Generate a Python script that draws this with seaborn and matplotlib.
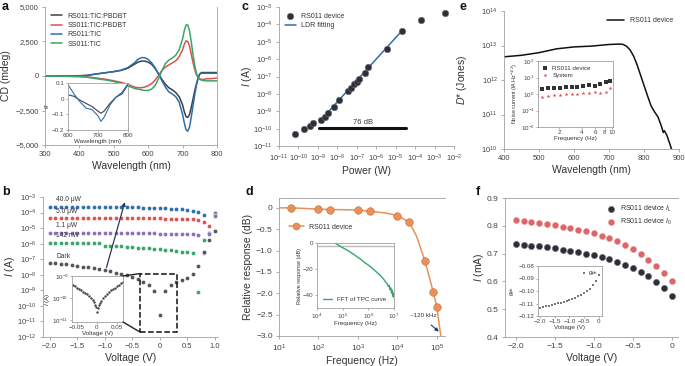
import numpy as np
import pandas as pd
import matplotlib
matplotlib.use('Agg')
import matplotlib.pyplot as plt
import seaborn as sns
from matplotlib.ticker import LogLocator, NullLocator, FixedLocator, FuncFormatter
from matplotlib.patches import Rectangle, ConnectionPatch

# ---------------- data ----------------
# a: CD spectra
wl_a = [300, 350, 400, 420, 450, 480, 500, 520, 540, 560, 570, 580, 590, 600, 610, 620, 630,
        640, 650, 660, 670, 680, 690, 700, 705, 710, 715, 720, 725, 730, 735, 740, 745, 750,
        755, 760, 770, 780, 800]
cd_rs_pbdbt = [0, 10, 20, 40, 150, 250, 320, 400, 550, 850, 1000, 1080, 1080, 1000, 850, 550, 150,
               -250, -600, -850, -1000, -1200, -1500, -2100, -2600, -2950, -3000, -2800, -2300,
               -1700, -1100, -600, -150, 150, 250, 250, 250, 250, 250]
cd_ss_pbdbt = [0, 0, -30, -50, -150, -250, -350, -450, -600, -800, -850, -850, -800, -700, -550,
               -300, 50, 400, 650, 800, 950, 1100, 1400, 1900, 2300, 2550, 2500, 2200, 1600, 1000,
               500, 100, -100, -200, -250, -250, -200, -200, -150]
cd_rs_tic = [0, 10, 20, 40, 150, 250, 320, 420, 600, 950, 1200, 1330, 1330, 1200, 950, 600, 150,
             -350, -800, -1150, -1300, -1500, -1900, -2800, -3400, -3900, -4000, -3700, -3000,
             -2200, -1400, -700, -150, 150, 200, 200, 200, 200, 200]
cd_ss_tic = [0, -20, -50, -80, -200, -300, -400, -550, -700, -900, -950, -1000, -1050, -1050, -950,
             -700, -200, 400, 900, 1150, 1300, 1500, 1900, 2700, 3300, 3700, 3700, 3300, 2500,
             1600, 800, 200, -100, -250, -300, -330, -350, -350, -350]
wl_g = [600, 620, 640, 660, 680, 700, 710, 720, 740, 760, 780, 800]
g_rs_pbdbt = [0.025, 0.015, -0.01, -0.03, -0.05, -0.08, -0.093, -0.08, -0.03, 0.01, 0.03, 0.09]
g_rs_tic = [0.09, 0.03, -0.02, -0.06, -0.07, -0.11, -0.145, -0.12, -0.04, 0.01, 0.04, 0.095]

# b: I-V curves
v_b = [-2.0, -1.9, -1.8, -1.7, -1.6, -1.5, -1.4, -1.3, -1.2, -1.1, -1.0, -0.9, -0.8, -0.7, -0.6,
       -0.5, -0.4, -0.3, -0.2, -0.1, 0.0, 0.1, 0.2, 0.3, 0.4, 0.5, 0.6, 0.7, 0.8, 0.9, 1.0]
i_40uw = [2.4e-4, 2.4e-4, 2.4e-4, 2.4e-4, 2.4e-4, 2.4e-4, 2.4e-4, 2.35e-4, 2.35e-4, 2.3e-4, 2.3e-4,
          2.3e-4, 2.25e-4, 2.25e-4, 2.2e-4, 2.2e-4, 2.15e-4, 2.1e-4, 2.05e-4, 2.0e-4, 1.95e-4,
          1.9e-4, 1.8e-4, 1.7e-4, 1.6e-4, 1.45e-4, 1.3e-4, 1.1e-4, 6.5e-5, 5e-6, 9e-5]
i_5uw = [4.8e-5, 4.8e-5, 4.8e-5, 4.8e-5, 4.8e-5, 4.7e-5, 4.7e-5, 4.7e-5, 4.7e-5, 4.6e-5, 4.6e-5,
         4.6e-5, 4.5e-5, 4.5e-5, 4.5e-5, 4.4e-5, 4.4e-5, 4.3e-5, 4.3e-5, 4.2e-5, 4.2e-5, 4.1e-5,
         4.1e-5, 4.0e-5, 4.0e-5, 3.9e-5, 3.8e-5, 3.2e-5, 2.4e-5, 1.4e-5, 6.5e-5]
i_1uw = [5.2e-6, 5.2e-6, 5.2e-6, 5.2e-6, 5.1e-6, 5.1e-6, 5.1e-6, 5.1e-6, 5.0e-6, 5.0e-6, 5.0e-6,
         4.9e-6, 4.9e-6, 4.9e-6, 4.8e-6, 4.8e-6, 4.7e-6, 4.7e-6, 4.6e-6, 4.6e-6, 4.5e-6, 4.5e-6,
         4.4e-6, 4.4e-6, 4.3e-6, 4.3e-6, 4.2e-6, 3.5e-6, 2.6e-7, 3.9e-6, 5.6e-5]
i_142nw = [1.15e-6, 1.14e-6, 1.13e-6, 1.12e-6, 1.11e-6, 1.1e-6, 1.09e-6, 1.08e-6, 1.07e-6, 1.06e-6,
           7.5e-7, 7.2e-7, 6.9e-7, 6.6e-7, 6.3e-7, 6.0e-7, 5.6e-7, 5.2e-7, 4.9e-7, 4.6e-7, 4.3e-7,
           4.0e-7, 3.7e-7, 3.4e-7, 3.1e-7, 2.9e-7, 2.6e-7, 8e-10, 1.8e-6, np.nan, np.nan]
i_dark = [6.0e-8, 5.5e-8, 5.0e-8, 4.6e-8, 4.2e-8, 3.8e-8, 3.4e-8, 3.0e-8, 2.6e-8, 2.3e-8, 2.0e-8,
          1.7e-8, 1.4e-8, 1.2e-8, 9.5e-9, 7.5e-9, 5.0e-9, 3.5e-9, 2.2e-9, 9e-10, 2.5e-11, 9e-10,
          2.2e-9, 3.3e-9, 4.7e-9, 6e-9, 1.1e-8, 3.7e-8, 3e-7, 1.8e-6, 6.3e-6]
power_labels = ['40.0 μW', '5.0 μW', '1.1 μW', '142 nW', 'Dark']
label_y = [7.0e-4, 1.1e-4, 1.4e-5, 3.3e-6, 1.6e-7]
v_zoom = [-0.06, -0.055, -0.05, -0.045, -0.04, -0.035, -0.03, -0.025, -0.02, -0.015, -0.01, -0.0075,
          -0.005, -0.0025, 0.0, 0.0025, 0.005, 0.0075, 0.01, 0.015, 0.02, 0.025, 0.03, 0.035,
          0.04, 0.045, 0.05, 0.055, 0.06, 0.065]
i_zoom = [4.0e-10, 3.4e-10, 2.9e-10, 2.6e-10, 2.3e-10, 2.0e-10, 1.7e-10, 1.5e-10, 1.3e-10, 1.05e-10,
          7.9e-11, 6.5e-11, 5.2e-11, 4.0e-11, 2.4e-11, 3.8e-11, 4.8e-11, 6.0e-11, 7.3e-11, 1.0e-10,
          1.3e-10, 1.6e-10, 1.9e-10, 2.3e-10, 2.7e-10, 3.0e-10, 3.4e-10, 4.0e-10, 4.8e-10, 5.4e-10]

# c: linear dynamic range
power_c = [6.5e-11, 1.95e-10, 3.8e-10, 5.9e-10, 1.4e-9, 2.4e-9, 3.3e-9, 6.4e-9, 1.2e-8, 3.5e-8,
           4.9e-8, 7.3e-8, 1.07e-7, 1.35e-7, 2.6e-7, 3.8e-7, 3.6e-6, 2.0e-5, 1.95e-4, 3.3e-3]
current_c = [4.7e-11, 9.5e-11, 1.4e-10, 2.2e-10, 3.1e-10, 4.8e-10, 7.5e-10, 1.8e-9, 4.4e-9, 1.5e-8,
             2.3e-8, 3.6e-8, 5.1e-8, 7.0e-8, 1.5e-7, 3.6e-7, 4.0e-6, 4.0e-5, 1.9e-4, 4.6e-4]
fit_power = [1.4e-9, 2.0e-5]
fit_current = [3.1e-10, 4.0e-5]
ldr_range = [1.2e-9, 3.3e-5]

# d: frequency response
freq_d = [20, 100, 200, 1000, 2000, 10000, 20000, 50000, 80000, 100000]
resp_d = [0.0, -0.03, -0.04, -0.05, -0.08, -0.18, -0.34, -1.25, -1.96, -2.33]
freq_d_line = [10, 20, 100, 200, 1000, 2000, 5000, 10000, 20000, 30000, 50000, 80000, 100000, 125000]
resp_d_line = [0.0, 0.0, -0.03, -0.04, -0.05, -0.08, -0.12, -0.18, -0.34, -0.65, -1.25, -1.96, -2.33, -3.0]
freq_fft = [5e4, 6e4, 8e4, 1e5, 1.5e5, 2e5, 3e5, 5e5, 7e5, 1e6, 1.5e6, 2e6, 3e6, 4e6, 5e6, 5.5e6,
            6e6, 6.5e6, 7e6, 7.5e6, 8e6, 8.5e6, 9e6, 9.5e6, 1e7]
resp_fft = [0.0, -1.0, -2.5, -3.6, -5.5, -7.0, -9.4, -12.5, -14.8, -17.0, -19.8, -22.0, -25.2, -28.0,
            -30.6, -31.5, -33.5, -32.5, -36.0, -34.5, -38.5, -36.5, -41.0, -38.5, -42.0]

# e: detectivity
wl_e = [400, 450, 500, 550, 600, 650, 700, 730, 740, 750, 760, 770, 780, 790, 800, 810, 820, 830,
        840, 850, 855, 858, 862, 866, 870, 875, 880]
dstar = [4.7e12, 5.2e12, 6.2e12, 8.0e12, 9.1e12, 9.6e12, 1.07e13, 1.1e13, 1.08e13, 9.5e12, 7.5e12,
         5e12, 2.8e12, 1.4e12, 7e11, 3.5e11, 1.8e11, 1.2e11, 8.5e10, 4.5e10, 3.0e10, 3.4e10,
         2.9e10, 2.4e10, 1.8e10, 1.3e10, 9e9]
freq_e = [1.19, 1.42, 1.71, 2.04, 2.44, 2.91, 3.44, 4.11, 4.96, 5.88, 6.97, 8.27, 9.4]
noise_device = [1.9, 2.2, 2.3, 2.4, 2.6, 2.7, 2.8, 3.1, 3.3, 3.0, 4.0, 5.0, 6.2]
noise_system = [0.7, 0.8, 0.85, 0.9, 0.95, 1.0, 1.05, 1.1, 1.15, 1.3, 1.2, 1.25, 2.2]

# f: currents and gph
v_f = [-2.0, -1.9, -1.8, -1.7, -1.6, -1.5, -1.4, -1.3, -1.2, -1.1, -1.0, -0.9, -0.8, -0.7, -0.6,
       -0.5, -0.4, -0.3, -0.2, -0.1, 0.0]
i_l = [0.735, 0.731, 0.728, 0.726, 0.723, 0.719, 0.714, 0.708, 0.705, 0.700, 0.694, 0.688, 0.679,
       0.671, 0.660, 0.648, 0.635, 0.618, 0.599, 0.576, 0.549]
i_r = [0.822, 0.818, 0.815, 0.811, 0.808, 0.802, 0.797, 0.792, 0.786, 0.780, 0.773, 0.764, 0.755,
       0.744, 0.731, 0.717, 0.699, 0.678, 0.657, 0.629, 0.600]
gph = [-0.1132, -0.1127, -0.1122, -0.1117, -0.1111, -0.1105, -0.1098, -0.1092, -0.1085, -0.1078,
       -0.1070, -0.1062, -0.1053, -0.1043, -0.1032, -0.1019, -0.1002, -0.0980, -0.0952, -0.0917,
       -0.0872]

# ---------------- style ----------------
sns.set_style('ticks')
plt.rcParams['font.family'] = ['Liberation Sans', 'DejaVu Sans']
plt.rcParams['mathtext.fontset'] = 'custom'
plt.rcParams['mathtext.rm'] = 'Liberation Sans'
plt.rcParams['mathtext.it'] = 'Liberation Sans:italic'
plt.rcParams['mathtext.default'] = 'regular'

TXT = '#333333'
GREY = '#a0a0a0'
c_dark = '#3d4048'
c_red = '#d9534f'
c_blue = '#2f6ea8'
c_green = '#3aa56a'
c_purple = '#8e6fb5'
c_orange = '#e8915a'

W, H = 685, 366
fig = plt.figure(figsize=(W / 100, H / 100), dpi=100)


def add_ax(l, t, r, b):
    return fig.add_axes([l / W, 1 - b / H, (r - l) / W, (b - t) / H])


def style(ax, box=False, fs=6):
    for s in ['top', 'right']:
        ax.spines[s].set_visible(box)
    for s in ax.spines.values():
        s.set_color(GREY)
        s.set_linewidth(0.6)
    ax.tick_params(which='both', labelsize=fs, color=GREY, labelcolor='#444444',
                   length=2.5, width=0.6, pad=2)


def log_axis(axis, lo, hi):
    axis.set_major_locator(FixedLocator([10.0 ** k for k in range(lo, hi + 1)]))
    axis.set_minor_locator(NullLocator())


def lab(ax, xl, yl, fs=7.5):
    ax.set_xlabel(xl, fontsize=fs, color=TXT, labelpad=2)
    ax.set_ylabel(yl, fontsize=fs, color=TXT, labelpad=2)


comma = FuncFormatter(lambda v, p: f'{v:,.0f}'.replace('-', '−'))
volt = FuncFormatter(lambda v, p: '0' if abs(v) < 1e-9 else f'{v:.1f}'.replace('-', '−'))

# ---------------- panel a ----------------
ax = add_ax(45, 7, 217, 145)
style(ax)
ax.spines['right'].set_visible(True)
for y, c, name in [(cd_rs_pbdbt, c_dark, 'RS011:TIC:PBDBT'), (cd_ss_pbdbt, c_red, 'SS011:TIC:PBDBT'),
                   (cd_rs_tic, c_blue, 'RS011:TIC'), (cd_ss_tic, c_green, 'SS011:TIC')]:
    sns.lineplot(x=wl_a, y=y, ax=ax, color=c, lw=1.1, label=name, sort=False)
ax.set_xlim(300, 800)
ax.set_ylim(-5000, 5000)
ax.set_xticks([300, 400, 500, 600, 700, 800])
ax.set_yticks([-5000, -2500, 0, 2500, 5000])
ax.yaxis.set_major_formatter(comma)
ax.tick_params(labelsize=5.5)
lab(ax, 'Wavelength (nm)', 'CD (mdeg)')
ax.yaxis.set_label_coords(-0.2, 0.5)
ax.legend(loc='upper left', bbox_to_anchor=(0.0, 1.0), frameon=False, fontsize=5, handlelength=1.6,
          labelspacing=0.35, borderaxespad=0.4, labelcolor=TXT)

ia = add_ax(68, 83, 128, 130)
style(ia, box=True, fs=4.5)
sns.lineplot(x=wl_g, y=g_rs_pbdbt, ax=ia, color=c_dark, lw=0.8)
sns.lineplot(x=wl_g, y=g_rs_tic, ax=ia, color=c_blue, lw=0.8)
ia.set_xlim(600, 800)
ia.set_ylim(-0.2, 0.1)
ia.set_xticks([600, 700, 800])
ia.set_yticks([-0.2, -0.1, 0, 0.1])
ia.yaxis.set_major_formatter(FuncFormatter(lambda v, p: '0' if abs(v) < 1e-9 else f'{v:.1f}'.replace('-', '−')))
ia.tick_params(length=1.5, pad=1)
ia.set_xlabel('Wavelength (nm)', fontsize=4.5, color=TXT, labelpad=0.5)
ia.set_ylabel('$\\mathit{g}$', fontsize=4.5, color=TXT, labelpad=0.5)

# ---------------- panel b ----------------
ax = add_ax(43, 197, 218, 337)
style(ax)
ax.set_yscale('log')
for y, c in [(i_40uw, c_blue), (i_5uw, c_red), (i_1uw, c_purple), (i_142nw, c_green), (i_dark, '#555555')]:
    sns.scatterplot(x=v_b, y=y, ax=ax, color=c, s=9, edgecolor='white', linewidth=0.3, legend=False)
ax.set_xlim(-2.12, 1.06)
ax.set_ylim(1e-12, 1e-3)
log_axis(ax.yaxis, -12, -3)
ax.set_xticks([-2.0, -1.5, -1.0, -0.5, 0.0, 0.5, 1.0])
ax.xaxis.set_major_formatter(volt)
ax.tick_params(labelsize=5.5)
lab(ax, 'Voltage (V)', '$\\mathit{I}$ (A)')
ax.yaxis.set_label_coords(-0.15, 0.5)
for t, yv in zip(power_labels, label_y):
    ax.text(-1.88, yv, t, fontsize=4.8, color=TXT, va='center', ha='left')
ax.annotate('', xy=(-0.62, 7e-4), xytext=(-0.98, 2.0e-8),
            arrowprops=dict(arrowstyle='-|>', color='#2b3a55', lw=0.9, mutation_scale=5))
ax.add_patch(Rectangle((-0.35, 2e-12), 0.67, 1.2e-8 - 2e-12, fill=False, ls='--', lw=1.1,
                       edgecolor='#111111', zorder=4))

ib = add_ax(72, 276, 123, 322)
style(ib, box=True, fs=4.5)
ib.set_yscale('log')
sns.scatterplot(x=v_zoom, y=i_zoom, ax=ib, color='#444444', s=3, linewidth=0, legend=False)
ib.set_xlim(-0.062, 0.066)
ib.set_ylim(8.5e-12, 1e-9)
log_axis(ib.yaxis, -11, -9)
ib.set_xticks([-0.05, 0, 0.05])
ib.xaxis.set_major_formatter(FuncFormatter(lambda v, p: '0' if abs(v) < 1e-9 else f'{v:.2f}'.replace('-', '−')))
ib.tick_params(length=1.5, pad=1)
ib.set_xlabel('Voltage (V)', fontsize=4.5, color=TXT, labelpad=0.5)
ib.set_ylabel('$\\mathit{I}$ (A)', fontsize=4.5, color=TXT, labelpad=0)
for pa, pb in [((-0.35, 1.2e-8), (1, 1)), ((-0.35, 2e-12), (1, 0))]:
    fig.add_artist(ConnectionPatch(xyA=pa, coordsA='data', axesA=ax, xyB=pb, coordsB='axes fraction',
                                   axesB=ib, color='#222222', lw=1.0))

# ---------------- panel c ----------------
ax = add_ax(279, 7, 454, 146)
style(ax)
ax.set_xscale('log')
ax.set_yscale('log')
sns.lineplot(x=fit_power, y=fit_current, ax=ax, color=c_blue, lw=1.1, label='LDR fitting', zorder=2)
sns.scatterplot(x=power_c, y=current_c, ax=ax, color='#2e3038', s=22, edgecolor='#6b6f7a',
                linewidth=0.4, label='RS011 device', zorder=3)
ax.plot(ldr_range, [1.1e-10, 1.1e-10], color='#111111', lw=2.2)
ax.text(np.sqrt(ldr_range[0] * ldr_range[1]), 1.5e-10, '76 dB', fontsize=5.5, color=TXT,
        ha='center', va='bottom')
ax.set_xlim(1e-11, 1e-2)
ax.set_ylim(1e-11, 1e-3)
log_axis(ax.xaxis, -11, -2)
log_axis(ax.yaxis, -11, -3)
ax.tick_params(labelsize=5.5)
lab(ax, 'Power (W)', '$\\mathit{I}$ (A)')
ax.yaxis.set_label_coords(-0.14, 0.5)
h, l = ax.get_legend_handles_labels()
ax.legend(h[::-1], l[::-1], loc='upper left', frameon=False, fontsize=5, handlelength=1.6,
          labelspacing=0.4, borderaxespad=0.4, labelcolor=TXT)

# ---------------- panel d ----------------
ax = add_ax(279, 198, 445, 336)
style(ax)
ax.spines['top'].set_visible(True)
ax.set_xscale('log')
sns.lineplot(x=freq_d_line, y=resp_d_line, ax=ax, color=c_orange, lw=1.1)
sns.scatterplot(x=freq_d, y=resp_d, ax=ax, color=c_orange, s=30, edgecolor='#c96d35', linewidth=0.4,
                legend=False, zorder=3)
ax.plot([], [], color=c_orange, lw=1.1, marker='o', ms=5, mec='#c96d35', mew=0.4, label='RS011 device')
ax.set_xlim(10, 1.6e5)
ax.set_ylim(-3.0, 0.23)
log_axis(ax.xaxis, 1, 5)
ax.set_yticks([-3.0, -2.5, -2.0, -1.5, -1.0, -0.5, 0])
ax.yaxis.set_major_formatter(volt)
lab(ax, 'Frequency (Hz)', 'Relative response (dB)')
ax.legend(loc='upper left', bbox_to_anchor=(0.02, 0.86), frameon=False, fontsize=5, handlelength=2.2,
          labelcolor=TXT)
ax.annotate('', xy=(1.26e5, -2.94), xytext=(6.3e4, -2.70),
            arrowprops=dict(arrowstyle='-|>', color='#2b3a55', lw=0.8, mutation_scale=5))
ax.text(4.6e4, -2.58, '~120 kHz', fontsize=4.5, color=TXT, ha='center', va='bottom')

idd = add_ax(317, 243, 394, 308)
style(idd, box=True, fs=4.5)
idd.set_xscale('log')
idd.axhline(-2.5, color='#bbbbbb', lw=1.0)
sns.lineplot(x=freq_fft, y=resp_fft, ax=idd, color=c_green, lw=1.0, label='FFT of TPC curve')
idd.set_xlim(1e4, 1e7)
idd.set_ylim(-50, 0)
log_axis(idd.xaxis, 4, 7)
idd.set_yticks([-40, -20, 0])
idd.yaxis.set_major_formatter(FuncFormatter(lambda v, p: f'{v:.0f}'.replace('-', '−')))
idd.tick_params(length=1.5, pad=1)
idd.set_xlabel('Frequency (Hz)', fontsize=4.5, color=TXT, labelpad=0.5)
idd.set_ylabel('Relative response (dB)', fontsize=4, color=TXT, labelpad=0.5)
idd.legend(loc='lower left', frameon=False, fontsize=4.5, handlelength=1.5, labelcolor=TXT)

# ---------------- panel e ----------------
ax = add_ax(504, 11, 679, 149)
style(ax)
ax.set_yscale('log')
sns.lineplot(x=wl_e, y=dstar, ax=ax, color='#111111', lw=1.1, label='RS011 device')
ax.set_xlim(400, 900)
ax.set_ylim(1e10, 1e14)
log_axis(ax.yaxis, 10, 14)
ax.set_xticks([400, 500, 600, 700, 800, 900])
ax.tick_params(labelsize=5.5)
lab(ax, 'Wavelength (nm)', '$\\mathit{D}$* (Jones)')
ax.yaxis.set_label_coords(-0.2, 0.5)
ax.legend(loc='upper right', frameon=False, fontsize=5, handlelength=2.5, labelcolor=TXT)

ie = add_ax(538, 61, 613, 127)
style(ie, box=True, fs=4.5)
ie.set_xscale('log')
ie.set_yscale('log')
sns.scatterplot(x=freq_e, y=noise_device, ax=ie, color='#333333', marker='s', s=5, linewidth=0,
                label='RS011 device')
sns.scatterplot(x=freq_e, y=noise_system, ax=ie, color=c_red, marker='*', s=9, linewidth=0,
                label='System')
ie.set_xlim(1.04, 10.3)
ie.set_ylim(1e-2, 1e2)
log_axis(ie.yaxis, -2, 2)
ie.xaxis.set_major_locator(FixedLocator([2, 4, 6, 8, 10]))
ie.xaxis.set_minor_locator(NullLocator())
ie.xaxis.set_major_formatter(FuncFormatter(lambda v, p: f'{v:.0f}'))
ie.tick_params(length=1.5, pad=1)
ie.set_xlabel('Frequency (Hz)', fontsize=4.5, color=TXT, labelpad=0.5)
ie.set_ylabel('Noise current (fA Hz$^{-1/2}$)', fontsize=4, color=TXT, labelpad=0.5)
ie.legend(loc='upper left', frameon=False, fontsize=4.5, handlelength=0.8, labelspacing=0.3,
          borderaxespad=0.3, labelcolor=TXT)

# ---------------- panel f ----------------
ax = add_ax(505, 198, 678, 337)
style(ax)
ax.spines['top'].set_visible(True)
sns.scatterplot(x=v_f, y=i_l, ax=ax, color='#2e3038', s=20, edgecolor='#6b6f7a', linewidth=0.4,
                label='RS011 device $\\mathit{I}_{L}$')
sns.scatterplot(x=v_f, y=i_r, ax=ax, color='#d9676a', s=20, edgecolor='#f0a0a0', linewidth=0.4,
                label='RS011 device $\\mathit{I}_{0}$')
ax.set_xlim(-2.14, 0.08)
ax.set_ylim(0.4, 0.9)
ax.set_xticks([-2.0, -1.5, -1.0, -0.5, 0.0])
ax.xaxis.set_major_formatter(volt)
ax.set_yticks([0.4, 0.5, 0.6, 0.7, 0.8, 0.9])
lab(ax, 'Voltage (V)', '$\\mathit{I}$ (mA)')
ax.yaxis.set_label_coords(-0.11, 0.5)
ax.legend(loc='upper right', frameon=False, fontsize=5, handletextpad=0.2, labelspacing=0.4,
          labelcolor=TXT)

iff = add_ax(538, 266, 602, 316)
style(iff, box=True, fs=4.5)
sns.scatterplot(x=v_f, y=gph, ax=iff, color='#777777', marker='s', s=3, linewidth=0,
                label='$\\mathit{g}_{ph}$')
iff.set_xlim(-2.08, 0.12)
iff.set_ylim(-0.12, -0.08)
iff.set_xticks([-2.0, -1.5, -1.0, -0.5, 0.0])
iff.xaxis.set_major_formatter(volt)
iff.set_yticks([-0.12, -0.11, -0.10, -0.09, -0.08])
iff.yaxis.set_major_formatter(FuncFormatter(lambda v, p: f'{v:.2f}'.replace('-', '−')))
iff.tick_params(length=1.5, pad=1)
iff.set_xlabel('Voltage (V)', fontsize=4.5, color=TXT, labelpad=0.5)
iff.set_ylabel('$\\mathit{g}_{ph}$', fontsize=4.5, color=TXT, labelpad=0.5)
iff.legend(loc='upper right', frameon=False, fontsize=4.5, handlelength=0.6, handletextpad=0.3,
           borderaxespad=0.2, labelcolor=TXT)

# ---------------- panel letters ----------------
for t, x, y in [('a', 2, 1), ('b', 2, 186), ('c', 242, 1), ('d', 246, 186), ('e', 460, 1), ('f', 476, 186)]:
    fig.text(x / W, 1 - y / H, t, fontsize=9, fontweight='bold', va='top', ha='left', color='#111111')

fig.savefig('out.png', dpi=100)
